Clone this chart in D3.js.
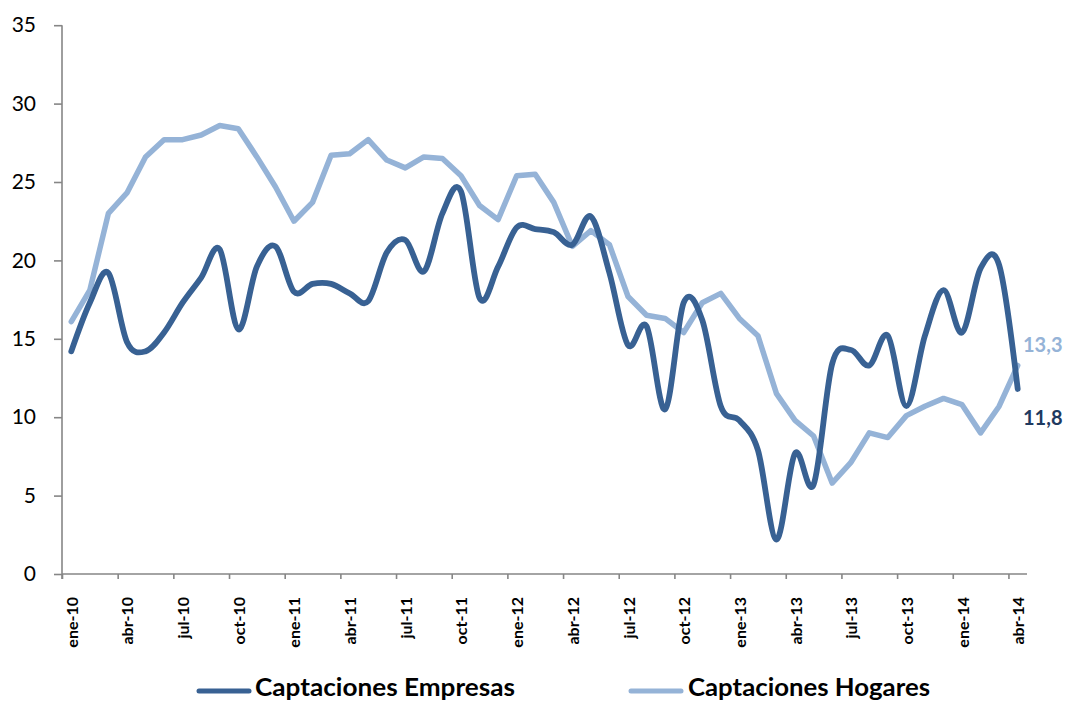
<!DOCTYPE html>
<html>
<head>
<meta charset="utf-8">
<script src="https://cdn.jsdelivr.net/npm/d3@7"></script>
<style>
  html, body { margin: 0; padding: 0; background: #fff; }
  svg { display: block; }
</style>
</head>
<body>
<svg id="chart" width="1070" height="702"></svg>
<script>
const months = ["ene","feb","mar","abr","may","jun","jul","ago","sep","oct","nov","dic"];
const categories = [];
for (let y = 10; y <= 14; y++) {
  for (let m = 0; m < 12; m++) {
    if (y === 14 && m > 3) break;
    categories.push(months[m] + "-" + y);
  }
}
const empresas = [14.2,17.3,19.2,14.8,14.2,15.4,17.3,18.9,20.7,15.6,19.6,20.9,
                  18.0,18.5,18.5,17.9,17.4,20.5,21.3,19.3,23.0,24.4,17.6,19.6,
                  22.1,22.0,21.8,21.0,22.8,19.2,14.6,15.8,10.5,17.3,16.2,10.7,
                  9.8,7.9,2.2,7.7,5.7,13.4,14.3,13.3,15.2,10.7,15.2,18.1,
                  15.4,19.5,19.7,11.8];
const hogares = [16.1,18.1,23.0,24.3,26.6,27.7,27.7,28.0,28.6,28.4,26.6,24.7,
                 22.5,23.7,26.7,26.8,27.7,26.4,25.9,26.6,26.5,25.4,23.5,22.6,
                 25.4,25.5,23.7,20.9,21.9,21.0,17.7,16.5,16.3,15.4,17.3,17.9,
                 16.3,15.2,11.5,9.8,8.8,5.8,7.1,9.0,8.7,10.1,10.7,11.2,
                 10.8,9.0,10.7,13.3];
const yTicks = [0,5,10,15,20,25,30,35];
const seriesNames = ["Captaciones Empresas","Captaciones Hogares"];
const endLabels = ["11,8","13,3"];

const darkColor = "#386193";
const lightColor = "#95B3D7";
const axisColor = "#868686";
const font = "Lato, 'Open Sans', sans-serif";

const svg = d3.select("#chart");
const x0 = 62, x1 = 1027, yTop = 25.2, yBot = 574;

const x = d3.scaleLinear().domain([0, categories.length]).range([x0, x1]);
const y = d3.scaleLinear().domain([0, 35]).range([yBot, yTop]);

// Y axis
const yAxis = d3.axisLeft(y).tickValues(yTicks).tickSize(8).tickPadding(18).tickFormat(d3.format("d"));
const gy = svg.append("g").attr("transform", `translate(${x0},0)`).call(yAxis);
gy.select(".domain").attr("stroke", axisColor).attr("stroke-width", 1.6)
  .attr("d", `M0,${yTop}V${yBot + 5}`);
gy.selectAll(".tick line").attr("stroke", axisColor).attr("stroke-width", 1.6);
gy.selectAll(".tick text").attr("font-family", font).attr("font-size", 21).attr("fill", "#000");

// X axis: tick marks at category boundaries every 3 months
const tickIdx = d3.range(0, categories.length, 3);
const xAxis = d3.axisBottom(x).tickValues(tickIdx).tickSize(5).tickFormat("");
const gx = svg.append("g").attr("transform", `translate(0,${yBot})`).call(xAxis);
gx.select(".domain").attr("stroke", axisColor).attr("stroke-width", 1.6)
  .attr("d", `M${x0},0H${x1}`);
gx.selectAll(".tick line").attr("stroke", axisColor).attr("stroke-width", 1.6);

// X labels centered on categories
svg.append("g").selectAll("text").data(tickIdx).join("text")
  .attr("transform", d => `translate(${x(d + 0.5) + 6.5},${yBot + 23}) rotate(-90)`)
  .attr("text-anchor", "end")
  .attr("font-family", font).attr("font-weight", "bold").attr("font-size", 16)
  .attr("fill", "#000")
  .text(d => categories[d]);

// Lines
const lineSmooth = d3.line().x((d, i) => x(i + 0.5)).y(d => y(d)).curve(d3.curveCatmullRom.alpha(0));
const lineStraight = d3.line().x((d, i) => x(i + 0.5)).y(d => y(d)).curve(d3.curveLinear);

svg.append("path").datum(hogares).attr("d", lineStraight)
  .attr("fill", "none").attr("stroke", lightColor).attr("stroke-width", 5.5)
  .attr("stroke-linejoin", "round").attr("stroke-linecap", "round");
svg.append("path").datum(empresas).attr("d", lineSmooth)
  .attr("fill", "none").attr("stroke", darkColor).attr("stroke-width", 5.8)
  .attr("stroke-linejoin", "round").attr("stroke-linecap", "round");

// End labels
svg.append("text").attr("x", 1023).attr("y", 352)
  .attr("font-family", font).attr("font-weight", "bold").attr("font-size", 20)
  .attr("fill", lightColor).text(endLabels[1]);
svg.append("text").attr("x", 1023).attr("y", 425)
  .attr("font-family", font).attr("font-weight", "bold").attr("font-size", 20)
  .attr("fill", "#1F3A60").text(endLabels[0]);

// Legend
const legend = [
  {name: seriesNames[0], color: darkColor, lx: 197, tx: 255, tw: 260},
  {name: seriesNames[1], color: lightColor, lx: 629, tx: 688, tw: 242}
];
const lg = svg.append("g");
legend.forEach(l => {
  lg.append("line").attr("x1", l.lx + 2).attr("x2", l.lx + 52).attr("y1", 691).attr("y2", 691)
    .attr("stroke", l.color).attr("stroke-width", 5).attr("stroke-linecap", "round");
  lg.append("text").attr("x", l.tx).attr("y", 696)
    .attr("font-family", font).attr("font-weight", "bold").attr("font-size", 25)
    .attr("textLength", l.tw).attr("lengthAdjust", "spacingAndGlyphs")
    .attr("fill", "#000").text(l.name);
});
</script>
</body>
</html>
